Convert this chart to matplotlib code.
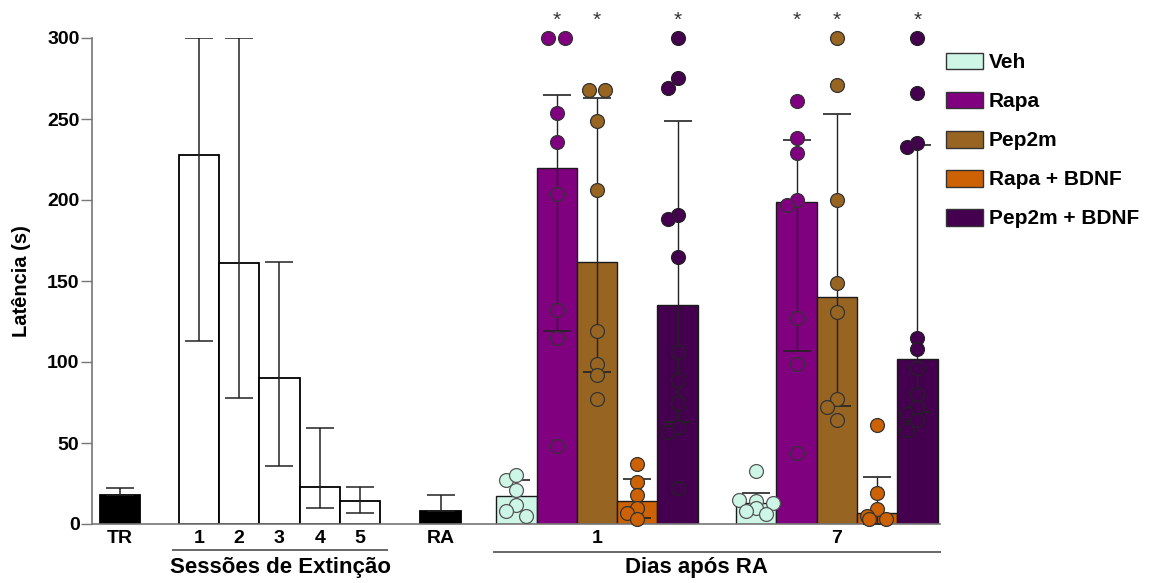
import matplotlib
matplotlib.use("Agg")
import matplotlib.pyplot as plt
from matplotlib.patches import Patch

plt.rcParams['font.family'] = ['Liberation Sans', 'DejaVu Sans']

# Training, extinction sessions and reactivation
pre_labels = ["TR", "1", "2", "3", "4", "5", "RA"]
pre_mean = [18, 228, 161, 90, 23, 14, 8]
pre_low = [18, 113, 78, 36, 10, 7, 8]
pre_high = [22.5, 300, 300, 162, 59, 23, 18]

# Days after reactivation, per treatment
groups = ["Veh", "Rapa", "Pep2m", "Rapa + BDNF", "Pep2m + BDNF"]
days = ["1", "7"]
mean_d1 = [17.5, 220, 162, 14, 135]
low_d1 = [8, 119, 94, 4, 63]
high_d1 = [27, 265, 263, 28, 249]
mean_d7 = [13, 199, 140, 7, 102]
low_d7 = [7, 107, 73, 0, 69]
high_d7 = [19, 237, 253, 29, 234]

pts_d1 = [
    [27, 30, 21, 12, 8, 5],
    [300, 300, 254, 236, 204, 132, 115, 48],
    [268, 268, 249, 206, 119, 99, 92, 77],
    [37, 26, 18, 10, 7, 3],
    [300, 275, 269, 191, 188, 165, 106, 89, 75, 60, 57, 22],
]
pts_d7 = [
    [33, 14, 13, 15, 10, 8, 6],
    [261, 238, 229, 200, 197, 127, 99, 44],
    [300, 271, 200, 149, 131, 77, 72, 64],
    [61, 19, 9, 5, 3, 3],
    [300, 266, 235, 233, 115, 108, 96, 80, 72, 68, 64, 58],
]
signif_d1 = [False, True, True, False, True]
signif_d7 = [False, True, True, False, True]

colors = ["#cdf6e7", "#800080", "#976521", "#cc6204", "#44004f"]
dot_edges = ["#555555", "#333333", "#333333", "#333333", "#222222"]

# pixel scale of the data axes (used to spread overlapping dots)
XPX = 40.3
YPX = 1.62


def swarm(vals, diam=14.0, shift=10.0):
    order = sorted(range(len(vals)), key=lambda i: -vals[i])
    placed = []
    offs = [0.0] * len(vals)
    for i in order:
        y = vals[i] * YPX
        best, best_d = 0.0, -1.0
        for cand in (0.0, -shift, shift):
            d = min([((cand - px) ** 2 + (y - py) ** 2) ** 0.5 for px, py in placed] or [99.0])
            if d >= diam * 0.8:
                best = cand
                break
            if d > best_d:
                best, best_d = cand, d
        placed.append((best, y))
        offs[i] = best
    # dots with the same value sit side by side, centred
    rows = []
    for i in order:
        if rows and abs(vals[rows[-1][-1]] - vals[i]) * YPX < diam * 0.15:
            rows[-1].append(i)
        else:
            rows.append([i])
    for r in rows:
        if len(r) > 1:
            for k, i in enumerate(r):
                offs[i] = (k - (len(r) - 1) / 2) * diam * 1.2
    return [o / XPX for o in offs]


fig = plt.figure(figsize=(11.62, 5.83), dpi=100)
ax = fig.add_axes([92 / 1162, 59 / 583, 848 / 1162, 486 / 583])

pre_x = [0, 1.95, 2.95, 3.95, 4.95, 5.95, 7.95]
pre_fill = ["black", "white", "white", "white", "white", "white", "black"]
ax.bar(pre_x, pre_mean, width=1.0, color=pre_fill, edgecolor="black", linewidth=1.3, zorder=2)
ax.errorbar(pre_x, pre_mean,
            yerr=[[m - lo for m, lo in zip(pre_mean, pre_low)],
                  [hi - m for m, hi in zip(pre_mean, pre_high)]],
            fmt="none", ecolor="#222222", elinewidth=1.1, capsize=10, capthick=1.1, zorder=3)

day_start = [9.83, 15.78]
for d, (means, lows, highs, pts, sig) in enumerate([
        (mean_d1, low_d1, high_d1, pts_d1, signif_d1),
        (mean_d7, low_d7, high_d7, pts_d7, signif_d7)]):
    xs = [day_start[d] + g for g in range(len(groups))]
    ax.bar(xs, means, width=1.0, color=colors, edgecolor="#1a1a1a", linewidth=1.0, zorder=2)
    ax.errorbar(xs, means,
                yerr=[[m - lo for m, lo in zip(means, lows)],
                      [hi - m for m, hi in zip(means, highs)]],
                fmt="none", ecolor="#222222", elinewidth=1.0, capsize=10, capthick=1.2, zorder=3)
    for g, x in enumerate(xs):
        offs = swarm(pts[g])
        ax.scatter([x + o for o in offs], pts[g], s=100, facecolor=colors[g],
                   edgecolor=dot_edges[g], linewidth=0.9, zorder=4, clip_on=False)
        if sig[g]:
            ax.text(x, 311, "*", ha="center", va="center", fontsize=15,
                    color="#333333", clip_on=False)

ax.set_ylim(0, 300)
ax.set_xlim(-0.70, 20.34)
ax.set_yticks([0, 50, 100, 150, 200, 250, 300])
ax.set_xticks(pre_x + [day_start[0] + 2, day_start[1] + 2])
ax.set_xticklabels(pre_labels + days)
ax.tick_params(axis="x", length=0, pad=4, labelsize=14)
ax.tick_params(axis="y", length=8, width=1, color="#777777", pad=1, labelsize=14)
for lab in ax.get_xticklabels() + ax.get_yticklabels():
    lab.set_fontweight("bold")
ax.set_ylabel("Latência (s)", fontsize=14.5, fontweight="bold")
ax.yaxis.set_label_coords(-0.072, 0.5)

for side in ["top", "right"]:
    ax.spines[side].set_visible(False)
for side in ["left", "bottom"]:
    ax.spines[side].set_color("#777777")
    ax.spines[side].set_linewidth(1.2)

# group brackets under the x axis
trans = ax.get_xaxis_transform()
ax.plot([1.32, 6.63], [-0.054, -0.054], color="#666666", lw=1.4, transform=trans, clip_on=False)
ax.text(3.97, -0.09, "Sessões de Extinção", ha="center", va="center", fontsize=16,
        fontweight="bold", transform=trans)
ax.plot([9.28, 20.35], [-0.058, -0.058], color="#666666", lw=1.4, transform=trans, clip_on=False)
ax.text(14.3, -0.09, "Dias após RA", ha="center", va="center", fontsize=16,
        fontweight="bold", transform=trans)

handles = [Patch(facecolor=c, edgecolor="#333333", linewidth=1.0, label=g)
           for c, g in zip(colors, groups)]
leg = fig.legend(handles=handles, loc="upper left", bbox_to_anchor=(931 / 1162, 1 - 38 / 583),
                 frameon=False, prop={"weight": "bold", "size": 15},
                 handlelength=1.78, handleheight=0.87, handletextpad=0.3, labelspacing=0.93,
                 borderpad=0.2)

fig.savefig("out.png", dpi=100)
